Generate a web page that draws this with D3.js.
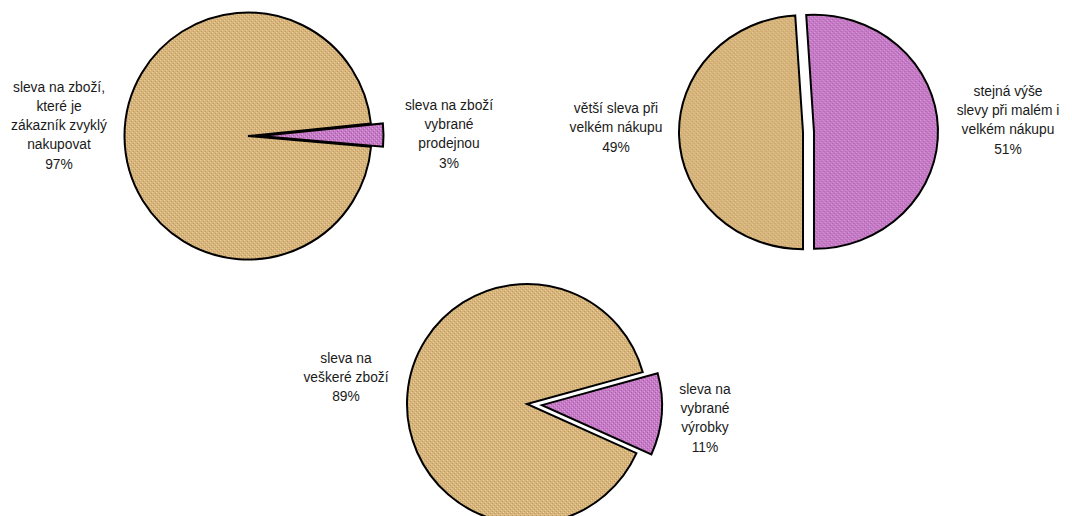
<!DOCTYPE html>
<html>
<head>
<meta charset="utf-8">
<script src="https://cdn.jsdelivr.net/npm/d3@7"></script>
<style>
  html, body { margin: 0; padding: 0; background: #fff; }
  svg { display: block; }
  text { font-family: "Liberation Sans", Arial, sans-serif; font-size: 13.8px; fill: #1a1a1a; }
</style>
</head>
<body>
<svg id="chart" width="1072" height="516"></svg>
<script>
// Pie 1 – kind of discount on goods
const categoriesA = [
  ["sleva na zboží,", "které je", "zákazník zvyklý", "nakupovat"],
  ["sleva na zboží", "vybrané", "prodejnou"]
];
const valuesA = [97, 3];

// Pie 2 – size of discount vs. purchase size
const categoriesB = [
  ["větší sleva při", "velkém nákupu"],
  ["stejná výše", "slevy při malém i", "velkém nákupu"]
];
const valuesB = [49, 51];

// Pie 3 – discount scope
const categoriesC = [
  ["sleva na", "veškeré zboží"],
  ["sleva na", "vybrané", "výrobky"]
];
const valuesC = [89, 11];

const sliceColors = ["url(#patTan)", "url(#patPink)"];

const svg = d3.select("#chart");
const defs = svg.append("defs");

// Fine dotted pattern fills
function makePattern(id, base, light, dark) {
  const p = defs.append("pattern")
    .attr("id", id).attr("patternUnits", "userSpaceOnUse")
    .attr("width", 4).attr("height", 4);
  p.append("rect").attr("width", 4).attr("height", 4).attr("fill", base);
  [[0, 0], [2, 2]].forEach(([x, y]) =>
    p.append("rect").attr("x", x).attr("y", y).attr("width", 1).attr("height", 1).attr("fill", light));
  [[1, 3], [3, 1]].forEach(([x, y]) =>
    p.append("rect").attr("x", x).attr("y", y).attr("width", 1).attr("height", 1).attr("fill", dark));
}
makePattern("patTan", "#d6b47b", "#ecd09a", "#bc9a62");
makePattern("patPink", "#c67ac6", "#e0a2e0", "#a55aa5");

const deg = Math.PI / 180;

function drawPie(opts) {
  const { cx, cy, r, sx, start, values, explode, labels } = opts;
  const pie = d3.pie().sort(null).value(d => d)
    .startAngle(start * deg).endAngle(start * deg + 2 * Math.PI);
  const arc = d3.arc().innerRadius(0).outerRadius(r);
  const g = svg.append("g").attr("transform", `translate(${cx},${cy}) scale(${sx},1)`);
  g.selectAll("path").data(pie(values)).join("path")
    .attr("d", arc)
    .attr("transform", (d, i) => {
      const a = (d.startAngle + d.endAngle) / 2;
      const off = explode[i];
      return `translate(${off * Math.sin(a) / sx},${-off * Math.cos(a)})`;
    })
    .attr("fill", (d, i) => sliceColors[i])
    .attr("stroke", "#000")
    .attr("stroke-width", 2)
    .attr("stroke-linejoin", "miter")
    .attr("vector-effect", "non-scaling-stroke");

  labels.forEach(lb => {
    const t = svg.append("text").attr("text-anchor", "middle");
    lb.lines.forEach((line, j) => {
      t.append("tspan").attr("x", lb.x).attr("y", lb.y + j * 19.3).attr("dy", "0.35em").text(line);
    });
  });
}

drawPie({
  cx: 248, cy: 136, r: 123.5, sx: 1, start: 95,
  values: valuesA, explode: [0, 12],
  labels: [
    { x: 59, y: 86.7, lines: [...categoriesA[0], valuesA[0] + "%"] },
    { x: 449, y: 105, lines: [...categoriesA[1], valuesA[1] + "%"] }
  ]
});

drawPie({
  cx: 808.5, cy: 132, r: 117, sx: 124 / 117, start: 180,
  values: valuesB, explode: [5.5, 5.5],
  labels: [
    { x: 616, y: 108.3, lines: [...categoriesB[0], valuesB[0] + "%"] },
    { x: 1008, y: 91, lines: [...categoriesB[1], valuesB[1] + "%"] }
  ]
});

drawPie({
  cx: 527, cy: 404, r: 120, sx: 1, start: 114.2,
  values: valuesC, explode: [0, 15],
  labels: [
    { x: 346, y: 358, lines: [...categoriesC[0], valuesC[0] + "%"] },
    { x: 705, y: 389, lines: [...categoriesC[1], valuesC[1] + "%"] }
  ]
});
</script>
</body>
</html>
